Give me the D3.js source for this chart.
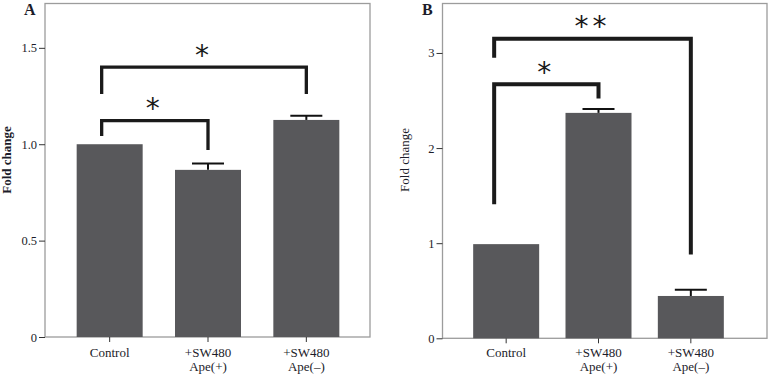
<!DOCTYPE html>
<html>
<head>
<meta charset="utf-8">
<script src="https://cdn.jsdelivr.net/npm/d3@7"></script>
<style>
  body { margin: 0; background: #fff; }
  svg { display: block; }
</style>
</head>
<body>
<svg id="chart"></svg>
<script>
// groups on the x axis (each entry = lines of the label)
const groups = ["Control", "+SW480 Ape(+)", "+SW480 Ape(–)"];
const groupLines = [["Control"], ["+SW480", "Ape(+)"], ["+SW480", "Ape(–)"]];

// panel A values (fold change) and error
const valuesA = [1.0, 0.867, 1.126];
const errorsA = [0, 0.033, 0.022];
const ticksA = [0, 0.5, 1.0, 1.5];
const tickLabelsA = ["0", "0.5", "1.0", "1.5"];

// panel B values (fold change) and error
const valuesB = [0.99, 2.37, 0.445];
const errorsB = [0, 0.04, 0.065];
const ticksB = [0, 1, 2, 3];
const tickLabelsB = ["0", "1", "2", "3"];

// significance brackets: [from group, to group, top, left leg end, right leg end, label]
const sigA = [
  [0, 1, 1.122, 1.043, 0.97, "*"],
  [0, 2, 1.40, 1.26, 1.26, "*"]
];
const sigB = [
  [0, 1, 2.67, 1.41, 2.52, "*"],
  [0, 2, 3.15, 2.95, 0.88, "**"]
];

const SERIF = "'Liberation Serif', 'Times New Roman', Times, serif";
const W = 769, H = 374;
const svg = d3.select("#chart").attr("width", W).attr("height", H);

function drawPanel(p) {
  const g = svg.append("g");

  const x = d3.scaleBand().domain(groups).range(p.xRange).padding(0);
  const y = d3.scaleLinear().domain([0, p.yMax]).range([p.bottom, p.top]);
  const cx = i => x(groups[i]) + x.bandwidth() / 2;
  const barW = 66;

  // frame
  g.append("rect")
    .attr("x", p.frame[0]).attr("y", p.top)
    .attr("width", p.frame[1] - p.frame[0]).attr("height", p.bottom - p.top)
    .attr("fill", "none").attr("stroke", "#9c9c9c").attr("stroke-width", 1.3);

  // bars
  g.selectAll("rect.bar").data(p.values).join("rect")
    .attr("class", "bar")
    .attr("x", (d, i) => cx(i) - barW / 2)
    .attr("width", barW)
    .attr("y", d => y(d))
    .attr("height", d => y(0) - y(d))
    .attr("fill", "#58585b");

  // error bars
  p.values.forEach((v, i) => {
    const e = p.errors[i];
    if (!e) return;
    g.append("line")
      .attr("x1", cx(i)).attr("x2", cx(i))
      .attr("y1", y(v)).attr("y2", y(v + e))
      .attr("stroke", "#111").attr("stroke-width", 2);
    g.append("line")
      .attr("x1", cx(i) - 16).attr("x2", cx(i) + 16)
      .attr("y1", y(v + e)).attr("y2", y(v + e))
      .attr("stroke", "#111").attr("stroke-width", 2);
  });

  // y axis
  const yAxis = g.append("g")
    .attr("transform", `translate(${p.frame[0]},0)`)
    .call(d3.axisLeft(y).tickValues(p.ticks).tickSize(6).tickPadding(2)
      .tickFormat((d, i) => p.tickLabels[i]));
  yAxis.select(".domain").remove();
  yAxis.selectAll("line").attr("stroke", "#333");
  yAxis.selectAll("text").attr("font-size", 12.5).attr("fill", "#1c1c2a");

  // x axis
  const xAxis = g.append("g")
    .attr("transform", `translate(0,${p.bottom})`)
    .call(d3.axisBottom(x).tickSize(5).tickFormat(""));
  xAxis.select(".domain").remove();
  xAxis.selectAll("line").attr("stroke", "#333");

  groupLines.forEach((lines, i) => {
    lines.forEach((t, k) => {
      g.append("text")
        .attr("class", "serif")
        .attr("x", cx(i)).attr("y", 357 + k * 13.5)
        .attr("text-anchor", "middle")
        .attr("font-size", 13)
        .attr("fill", "#1c1c2a")
        .text(t);
    });
  });

  // y label
  g.append("text")
    .attr("class", "serif")
    .attr("transform", `translate(${p.yLabelX},160) rotate(-90)`)
    .attr("text-anchor", "middle")
    .attr("font-size", 13)
    .attr("font-weight", p.yLabelBold ? "bold" : "normal")
    .attr("fill", "#1c1c2a")
    .text("Fold change");

  // panel letter
  g.append("text")
    .attr("class", "serif")
    .attr("x", p.letterX).attr("y", 15)
    .attr("font-size", 16).attr("font-weight", "bold")
    .attr("fill", "#1c1c2a")
    .text(p.letter);

  // significance brackets
  p.sig.forEach(([a, b, top, le, re, label]) => {
    const x1 = cx(a) + p.leftOffset, x2 = cx(b);
    g.append("path")
      .attr("d", d3.line()([[x1, y(le)], [x1, y(top)], [x2, y(top)], [x2, y(re)]]))
      .attr("fill", "none").attr("stroke", "#1a1a1a")
      .attr("stroke-width", p.sigWidth).attr("stroke-linejoin", "miter");
    g.append("text")
      .attr("x", (x1 + x2) / 2).attr("y", y(top) - 2.5)
      .attr("text-anchor", "middle")
      .attr("font-size", 28)
      .attr("letter-spacing", 4)
      .style("font-family", "'DejaVu Sans', sans-serif")
      .attr("fill", "#1a1a1a")
      .text(label);
  });

  yAxis.selectAll("text").style("font-family", SERIF);
  g.selectAll("text.serif").style("font-family", SERIF);
}

drawPanel({
  letter: "A", letterX: 24, values: valuesA, errors: errorsA,
  ticks: ticksA, tickLabels: tickLabelsA, sig: sigA,
  xRange: [60.5, 355.5], frame: [45, 370], yMax: 1.73, top: 3.5, bottom: 337,
  yLabelX: 11, yLabelBold: true, leftOffset: -8, sigWidth: 3.3
});
drawPanel({
  letter: "B", letterX: 422, values: valuesB, errors: errorsB,
  ticks: ticksB, tickLabels: tickLabelsB, sig: sigB,
  xRange: [460, 737], frame: [442.5, 767], yMax: 3.52, top: 3.5, bottom: 338.3,
  yLabelX: 409, yLabelBold: false, leftOffset: -12, sigWidth: 4
});
</script>
</body>
</html>
